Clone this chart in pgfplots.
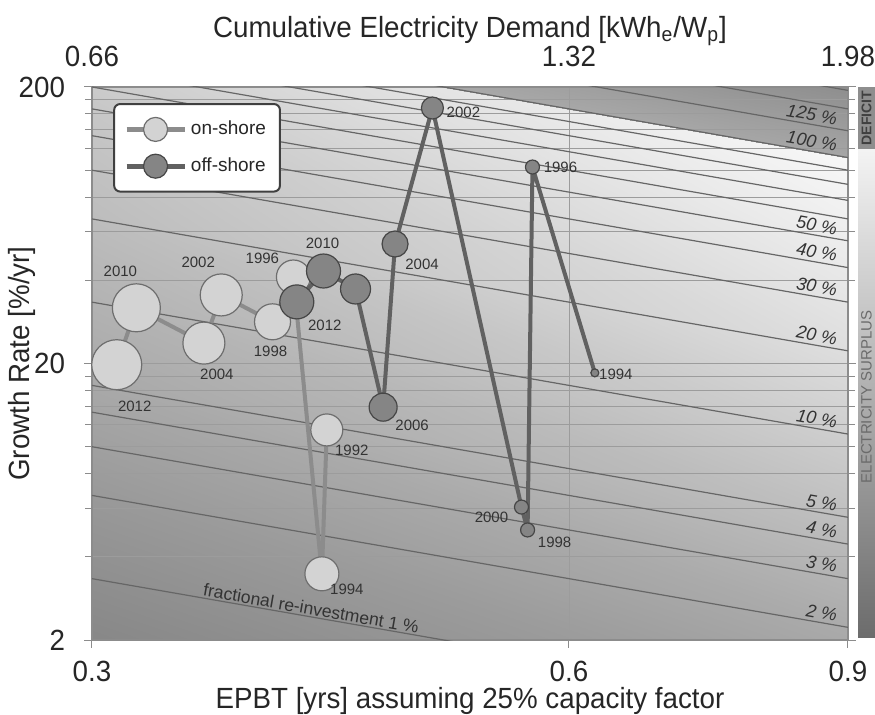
\documentclass[border=0pt]{standalone}
\usepackage{fontspec}
\setmainfont{Liberation Sans}
\newfontfamily\narrowfont[FakeStretch=0.95]{Liberation Sans}
\usepackage{pgfplots}
\pgfplotsset{compat=1.18}
\usepackage{pgfplotstable}
\usepgfplotslibrary{patchplots}

\definecolor{gridgray}{HTML}{9C9C9C}
\definecolor{axisgray}{HTML}{8C8C8C}
\definecolor{diaggray}{HTML}{666666}
\definecolor{onfill}{HTML}{D3D3D3}
\definecolor{onedge}{HTML}{6E6E6E}
\definecolor{online}{HTML}{8C8C8C}
\definecolor{offfill}{HTML}{858585}
\definecolor{offedge}{HTML}{464646}
\definecolor{offline}{HTML}{616161}
\definecolor{labelgray}{HTML}{333333}
\definecolor{legendedge}{HTML}{404040}
\definecolor{deficitgray}{HTML}{8E8E8E}
\definecolor{barTop}{HTML}{F3F3F3}
\definecolor{barMid}{HTML}{B4B4B4}
\definecolor{barBottom}{HTML}{6C6C6C}

\newcommand\axisfont{\narrowfont\fontsize{14.6}{17}\selectfont}

% on-shore wind: EPBT [yrs], growth rate [%/yr], marker radius [pt]
\pgfplotstableread{
year T     r     s
1992 0.422 11.5  8
1994 0.419 3.47  8.5
1996 0.402 41.1  8.5
1998 0.390 28.3  9
2002 0.362 35.4  10.5
2004 0.353 23.7  10.5
2010 0.320 31.8  12
2012 0.311 19.8  12.5
}\onshore

% off-shore wind
\pgfplotstableread{
year T     r     s
1994 0.623 18.5  2
1996 0.569 102.7 3.5
1998 0.565 5.0   3.5
2000 0.560 6.05  3.5
2002 0.492 167.9 5.5
2004 0.466 54.1  6.5
2006 0.458 13.9  7
2008 0.440 37.2  7.5
2010 0.420 43.2  8.5
2012 0.404 33.4  8.5
}\offshore

\pgfplotsset{
  diag/.style={draw=diaggray, line width=0.6pt, forget plot},
  bubbles/.style 2 args={scatter, only marks, mark=*, forget plot, point meta=0.5,
    scatter/use mapped color={draw=#1, fill=#2},
    visualization depends on={\thisrow{s}\as\msz},
    scatter/@pre marker code/.append style={/tikz/mark size=\msz},
    mark options={line width=0.6pt}},
}
\tikzset{
  pct/.style={font=\itshape\fontsize{9}{10}\selectfont, text=black!80, anchor=south east, sloped, inner sep=1.5pt},
  lbl/.style={font=\fontsize{7.5}{9}\selectfont, text=labelgray, inner sep=0pt},
}

\begin{document}
\begin{tikzpicture}

\begin{axis}[
  name=main, at={(0pt,0pt)}, anchor=south west,
  scale only axis, width=378pt, height=276.5pt,
  xmode=log, ymode=log,
  xmin=0.3, xmax=0.9, ymin=2, ymax=200,
  set layers, clip mode=individual,
  xtick={0.3,0.6,0.9}, xticklabels={0.3,0.6,0.9},
  ytick={2,20,200}, yticklabels={2,20,200},
  minor ytick={4,6,8,10,12,14,16,18,40,60,80,100,120,140,160,180},
  xmajorgrids, ymajorgrids, yminorgrids,
  grid style={draw=gridgray, line width=0.45pt},
  minor grid style={draw=gridgray, line width=0.45pt},
  axis line style={draw=axisgray, line width=0.6pt},
  tick style={draw=axisgray, line width=0.5pt},
  major tick length=4pt, minor tick length=3.5pt,
  tick align=outside,
  xtick pos=left, ytick pos=both, yticklabel pos=left,
  tick label style={font=\axisfont, text=black!85},
  xticklabel style={yshift=-3pt},
  yticklabel style={xshift=-6pt},
  xlabel={EPBT [yrs] assuming 25\% capacity factor},
  ylabel={Growth Rate [\%/yr]},
  label style={font=\axisfont, text=black!85},
  x label style={at={(axis description cs:0.5,-0.111)}, anchor=center},
  y label style={at={(axis description cs:-0.0926,0.5)}, anchor=center},
  colormap/blackwhite,
  point meta min=0, point meta max=1,
  legend cell align=left,
  legend style={at={(0.028,0.971)}, anchor=north west, draw=legendedge,
    line width=1pt, rounded corners=3pt, fill=white,
    font=\fontsize{9.5}{11}\selectfont, text=black!85,
    inner xsep=5pt, inner ysep=6.5pt, row sep=6pt},
  legend image code/.code={\draw[mark repeat=2,mark phase=2,#1]
    plot coordinates {(0pt,0pt) (14.5pt,0pt) (29pt,0pt)};},
]

% shaded background: darker towards low re-investment, deficit band above 100 %
\addplot[patch, patch type=rectangle, shader=interp, point meta=explicit,
  on layer=axis background, forget plot] coordinates {
 (0.3,1.6667)[0.52] (0.9,0.5556)[0.58] (0.9,1.1111)[0.62] (0.3,3.3333)[0.56]
 (0.3,3.3333)[0.56] (0.9,1.1111)[0.62] (0.9,2.2222)[0.67] (0.3,6.6667)[0.60]
 (0.3,6.6667)[0.60] (0.9,2.2222)[0.67] (0.9,5.5556)[0.75] (0.3,16.667)[0.66]
 (0.3,16.667)[0.66] (0.9,5.5556)[0.75] (0.9,11.111)[0.81] (0.3,33.333)[0.70]
 (0.3,33.333)[0.70] (0.9,11.111)[0.81] (0.9,22.222)[0.87] (0.3,66.667)[0.74]
 (0.3,66.667)[0.74] (0.9,22.222)[0.87] (0.9,55.556)[0.93] (0.3,166.67)[0.78]
 (0.3,166.67)[0.78] (0.9,55.556)[0.93] (0.9,111.11)[0.97] (0.3,333.33)[0.83]
 (0.3,333.33)[0.67] (0.9,111.11)[0.65] (0.9,222.22)[0.54] (0.3,666.67)[0.56]
};

% lines of constant fractional re-investment
\addplot[diag] coordinates {(0.3,3.3333) (0.9,1.1111)}
  node[pos=0.288, anchor=south, sloped, font=\fontsize{8.8}{10}\selectfont, text=black!80, inner sep=0.6pt] {fractional re-investment 1 \%};
\addplot[diag] coordinates {(0.3,6.6667) (0.9,2.2222)} node[pct, pos=0.988] {2 \%};
\addplot[diag] coordinates {(0.3,10) (0.9,3.3333)} node[pct, pos=0.988] {3 \%};
\addplot[diag] coordinates {(0.3,13.333) (0.9,4.4444)} node[pct, pos=0.988] {4 \%};
\addplot[diag] coordinates {(0.3,16.667) (0.9,5.5556)} node[pct, pos=0.988] {5 \%};
\addplot[diag] coordinates {(0.3,33.333) (0.9,11.111)} node[pct, pos=0.988] {10 \%};
\addplot[diag] coordinates {(0.3,66.667) (0.9,22.222)} node[pct, pos=0.988] {20 \%};
\addplot[diag] coordinates {(0.3,100) (0.9,33.333)} node[pct, pos=0.988] {30 \%};
\addplot[diag] coordinates {(0.3,133.33) (0.9,44.444)} node[pct, pos=0.988] {40 \%};
\addplot[diag] coordinates {(0.3,166.67) (0.9,55.556)} node[pct, pos=0.988] {50 \%};
\addplot[diag] coordinates {(0.3,200) (0.9,66.667)};
\addplot[diag] coordinates {(0.3,233.33) (0.9,77.778)};
\addplot[diag] coordinates {(0.3,266.67) (0.9,88.889)};
\addplot[diag] coordinates {(0.3,300) (0.9,100)};
\addplot[diag] coordinates {(0.3,333.33) (0.9,111.11)} node[pct, pos=0.988] {100 \%};
\addplot[diag] coordinates {(0.3,416.67) (0.9,138.89)} node[pct, pos=0.988] {125 \%};
\addplot[diag] coordinates {(0.3,500) (0.9,166.67)};
\addplot[diag] coordinates {(0.3,583.33) (0.9,194.44)};

% on-shore trajectory
\addplot[online, line width=2pt, line join=round, forget plot] table[x=T, y=r] {\onshore};
\addplot[bubbles={onedge}{onfill}] table[x=T, y=r] {\onshore};

% off-shore trajectory
\addplot[offline, line width=2pt, line join=round, forget plot] table[x=T, y=r] {\offshore};
\addplot[bubbles={offedge}{offfill}] table[x=T, y=r] {\offshore};

\addlegendimage{line width=2.2pt, color=online, mark=*, mark size=6pt,
  mark options={fill=onfill, draw=onedge, line width=0.6pt}}
\addlegendentry{on-shore}
\addlegendimage{line width=2.4pt, color=offline, mark=*, mark size=6pt,
  mark options={fill=offfill, draw=offedge, line width=0.6pt}}
\addlegendentry{off-shore}

% year labels, on-shore
\node[lbl, xshift=12.5pt, yshift=-10pt] at (axis cs:0.422,11.5) {1992};
\node[lbl, xshift=12.5pt, yshift=-8pt] at (axis cs:0.419,3.47) {1994};
\node[lbl, xshift=-15.5pt, yshift=9.5pt] at (axis cs:0.402,41.1) {1996};
\node[lbl, xshift=-1pt, yshift=-15pt] at (axis cs:0.390,28.3) {1998};
\node[lbl, xshift=-11.5pt, yshift=16.5pt] at (axis cs:0.362,35.4) {2002};
\node[lbl, xshift=6.5pt, yshift=-15.5pt] at (axis cs:0.353,23.7) {2004};
\node[lbl, xshift=-8pt, yshift=18pt] at (axis cs:0.320,31.8) {2010};
\node[lbl, xshift=9pt, yshift=-21pt] at (axis cs:0.311,19.8) {2012};
% year labels, off-shore
\node[lbl, xshift=10.5pt, yshift=-0.5pt] at (axis cs:0.623,18.5) {1994};
\node[lbl, xshift=14pt, yshift=0pt] at (axis cs:0.569,102.7) {1996};
\node[lbl, xshift=13.5pt, yshift=-6pt] at (axis cs:0.565,5.0) {1998};
\node[lbl, xshift=-15pt, yshift=-5pt] at (axis cs:0.560,6.05) {2000};
\node[lbl, xshift=15.5pt, yshift=-2pt] at (axis cs:0.492,167.9) {2002};
\node[lbl, xshift=13.5pt, yshift=-10pt] at (axis cs:0.466,54.1) {2004};
\node[lbl, xshift=14.5pt, yshift=-9pt] at (axis cs:0.458,13.9) {2006};
\node[lbl, xshift=-0.5pt, yshift=14pt] at (axis cs:0.420,43.2) {2010};
\node[lbl, xshift=14pt, yshift=-11.5pt] at (axis cs:0.404,33.4) {2012};
\end{axis}

% upper scale: cumulative electricity demand
\begin{axis}[
  at={(0pt,0pt)}, anchor=south west,
  scale only axis, width=378pt, height=276.5pt,
  xmode=log, xmin=0.3, xmax=0.9, ymin=0, ymax=1,
  axis line style={draw=none},
  xtick={0.3,0.6,0.9}, xticklabels={0.66,1.32,1.98},
  xticklabel pos=right, xtick style={draw=none},
  ytick=\empty,
  tick label style={font=\axisfont, text=black!85},
  xticklabel style={yshift=6.5pt},
  xlabel={Cumulative Electricity Demand [kWh\textsubscript{e}/W\textsubscript{p}]},
  x label style={font=\axisfont, text=black!85,
    at={(axis description cs:0.5,1.1013)}, anchor=center},
]
\addplot[draw=none, forget plot] coordinates {(0.3,0.5) (0.9,0.5)};
\end{axis}

% side bar: deficit / surplus
\fill[deficitgray] (383pt,245pt) rectangle (391.5pt,276.5pt);
\shade[top color=barTop, middle color=barMid, bottom color=barBottom]
  (383pt,1.5pt) rectangle (391.5pt,245pt);
\node[rotate=90, font=\bfseries\fontsize{7}{8}\selectfont, text=black!75, inner sep=0pt]
  at (387.25pt,261pt) {DEFICIT};
\node[rotate=90, font=\fontsize{7.5}{8}\selectfont, text=black!58, inner sep=0pt]
  at (387.25pt,121.5pt) {ELECTRICITY SURPLUS};

\pgfresetboundingbox
\path[use as bounding box] (-46pt,-37pt) rectangle (391.5pt,320pt);
\end{tikzpicture}
\end{document}
